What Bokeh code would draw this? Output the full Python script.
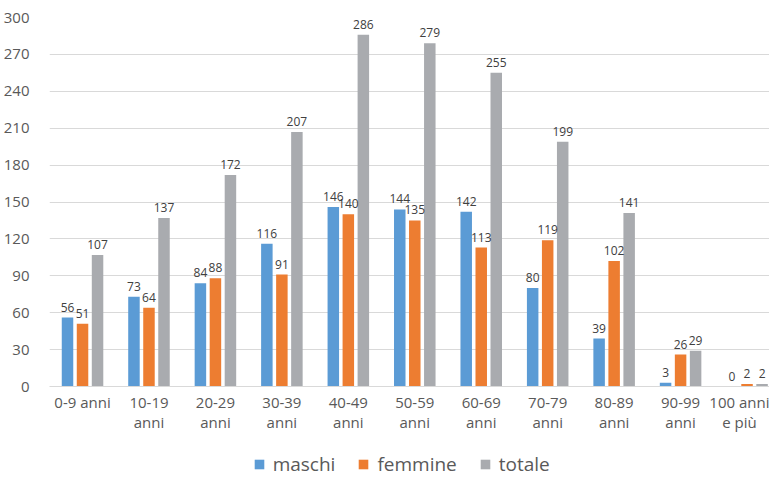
from bokeh.plotting import figure
from bokeh.models import ColumnDataSource, Legend, LegendItem, FixedTicker, Range1d, LabelSet
from bokeh.layouts import column
from bokeh.core.properties import value
from bokeh.embed import file_html
from bokeh.resources import INLINE

categories = ["0-9 anni", "10-19\nanni", "20-29\nanni", "30-39\nanni", "40-49\nanni",
              "50-59\nanni", "60-69\nanni", "70-79\nanni", "80-89\nanni", "90-99\nanni",
              "100 anni\ne più"]
maschi = [56, 73, 84, 116, 146, 144, 142, 80, 39, 3, 0]
femmine = [51, 64, 88, 91, 140, 135, 113, 119, 102, 26, 2]
totale = [107, 137, 172, 207, 286, 279, 255, 199, 141, 29, 2]
series_names = ["maschi", "femmine", "totale"]
colors = ["#5B9BD5", "#ED7D31", "#A9ABAF"]
y_ticks = list(range(0, 301, 30))

FONT = "Open Sans"
p = figure(frame_width=720, frame_height=369, output_backend="svg", toolbar_location=None,
           x_range=Range1d(-0.497, 10.338), y_range=Range1d(0, 300),
           min_border_left=41, min_border_right=0, min_border_top=17, min_border_bottom=61)
p.outline_line_color = None
p.xgrid.grid_line_color = None
p.ygrid.grid_line_color = "#D9D9D9"
p.ygrid.grid_line_width = 1

p.yaxis.ticker = FixedTicker(ticks=y_ticks)
p.yaxis.axis_line_color = None
p.yaxis.major_tick_line_color = None
p.yaxis.minor_tick_line_color = None
p.yaxis.major_label_text_font = FONT
p.yaxis.major_label_text_font_size = "15px"
p.yaxis.major_label_text_color = "#595959"
p.yaxis.major_label_standoff = 14

p.xaxis.ticker = FixedTicker(ticks=list(range(len(categories))))
p.xaxis.major_label_overrides = {i: c for i, c in enumerate(categories)}
p.xaxis.axis_line_color = "#D9D9D9"
p.xaxis.major_tick_line_color = None
p.xaxis.major_tick_out = 0
p.xaxis.minor_tick_line_color = None
p.xaxis.minor_tick_out = 0
p.xaxis.major_label_text_font = FONT
p.xaxis.major_label_text_font_size = "15px"
p.xaxis.major_label_text_color = "#595959"
p.xaxis.major_label_text_line_height = 1.0
p.xaxis.major_label_standoff = 5

# legend strip (same frame geometry, data kept out of view so only the legend shows)
lg = figure(frame_width=720, frame_height=30, output_backend="svg", toolbar_location=None,
            x_axis_location=None, y_axis_location=None,
            min_border_left=41, min_border_right=0, min_border_top=0, min_border_bottom=0,
            x_range=Range1d(1000, 1001), y_range=Range1d(1000, 1001))
lg.outline_line_color = None
lg.xgrid.visible = False
lg.ygrid.visible = False

offsets = [-0.226, 0.0, 0.226]
items = []
for name, vals, col, off in zip(series_names, [maschi, femmine, totale], colors, offsets):
    src = ColumnDataSource(dict(x=[i + off for i in range(len(categories))], top=vals,
                                lab=[str(v) for v in vals]))
    p.vbar(x="x", top="top", width=0.173, source=src, fill_color=col, line_color=None)
    ls = LabelSet(x="x", y="top", text="lab", source=src, text_align="center",
                  text_baseline="bottom", y_offset=6, text_font=value(FONT),
                  text_font_size="12px", text_color="#404040")
    p.add_layout(ls)
    r = lg.vbar(x="x", top="top", width=0.173, source=src, fill_color=col, line_color=None)
    items.append(LegendItem(label=name, renderers=[r]))

legend = Legend(items=items, orientation="horizontal", location=(239, 0),
                label_text_font=FONT, label_text_font_size="19px", label_text_color="#595959",
                glyph_width=12, glyph_height=12, label_standoff=8, spacing=22,
                border_line_color=None, background_fill_alpha=0, padding=0, margin=0)
lg.add_layout(legend, "center")

layout = column(p, lg, spacing=0)
open("out.html", "w").write(file_html(layout, INLINE))
